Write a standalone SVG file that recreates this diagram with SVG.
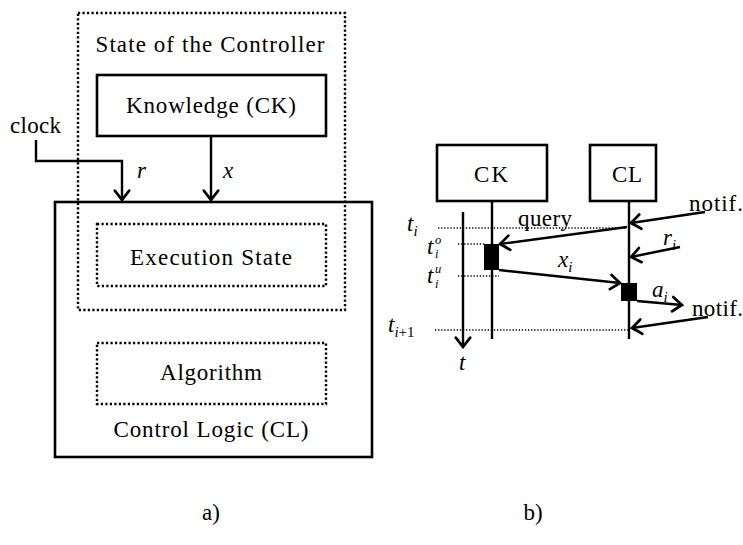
<svg xmlns="http://www.w3.org/2000/svg" width="743" height="545" viewBox="0 0 743 545" font-family="'Liberation Serif', 'Times New Roman', serif">
  <style>
    text { font-family: "Liberation Serif", "Times New Roman", serif; font-size: 23px; fill: #000; }
    .m { font-style: italic; }
    .sub { font-size: 15px; }
    .sm { font-size: 12.5px; font-style: italic; }
    .box { fill: none; stroke: #000; stroke-width: 2.6; }
    .dot { fill: none; stroke: #000; stroke-width: 2.4; stroke-dasharray: 2.2 2.3; }
    .thin { fill: none; stroke: #000; stroke-width: 1.3; stroke-dasharray: 1.3 1.8; }
    .ln { fill: none; stroke: #000; stroke-width: 2.4; }
    .blk { fill: #000; }
  </style>
  <defs>
    <marker id="arr" markerUnits="userSpaceOnUse" markerWidth="20" markerHeight="20" refX="0" refY="0" viewBox="-12 -9 14 18" orient="auto" overflow="visible">
      <path d="M-8.5,-6.5 Q-2.5,-1.8 0,0 Q-2.5,1.8 -8.5,6.5" fill="none" stroke="#000" stroke-width="2.4" stroke-linecap="round"/>
    </marker>
  </defs>

  <!-- a) block structure -->
  <g id="controller-state">
    <rect class="dot" x="78" y="13" width="267" height="297"/>
    <text x="210" y="52" text-anchor="middle" textLength="229">State of the Controller</text>
  </g>
  <g id="knowledge">
    <rect class="box" x="97" y="75" width="229" height="61"/>
    <text x="211" y="113" text-anchor="middle" textLength="170">Knowledge (CK)</text>
  </g>
  <g id="control-logic">
    <rect class="box" x="55" y="202" width="317" height="255"/>
    <text x="211" y="437" text-anchor="middle" textLength="195">Control Logic (CL)</text>
  </g>
  <g id="execution-state">
    <rect class="dot" x="97" y="224" width="229" height="62"/>
    <text x="211" y="265" text-anchor="middle" textLength="162">Execution State</text>
  </g>
  <g id="algorithm">
    <rect class="dot" x="97" y="343" width="229" height="61"/>
    <text x="211" y="380" text-anchor="middle" textLength="102">Algorithm</text>
  </g>
  <g id="clock">
    <text x="10" y="133" textLength="51">clock</text>
  </g>

  <g id="connectors-a">
    <path class="ln" d="M36,140 V161 H122 V200" marker-end="url(#arr)"/>
    <path class="ln" d="M211,136 V200" marker-end="url(#arr)"/>
    <text class="m" x="137" y="178">r</text>
    <text class="m" x="223" y="178">x</text>
  </g>

  <!-- b) sequence -->
  <g id="ck">
    <rect class="box" x="437" y="145" width="110" height="56"/>
    <text x="491" y="182" text-anchor="middle" textLength="34">CK</text>
  </g>
  <g id="cl">
    <rect class="box" x="590" y="145" width="66" height="56"/>
    <text x="627" y="182" text-anchor="middle" textLength="30">CL</text>
  </g>

  <g id="lifelines">
    <path class="ln" d="M492,201 V339"/>
    <path class="ln" d="M629,201 V339"/>
    <path class="ln" d="M463,212 V347" marker-end="url(#arr)"/>
    <rect class="blk" x="484" y="244" width="15" height="26"/>
    <rect class="blk" x="621" y="283" width="16" height="18"/>
  </g>

  <g id="time-marks">
    <path class="thin" d="M438,228 H627"/>
    <path class="thin" d="M458,244 H484"/>
    <path class="thin" d="M458,276 H499"/>
    <path class="thin" d="M435,330 H629"/>
    <text class="m" x="407" y="231">t<tspan class="sub" dy="5">i</tspan></text>
    <text class="m" x="427" y="254">t</text>
    <text class="sm" x="435" y="244">o</text>
    <text class="sm" x="435" y="258">i</text>
    <text class="m" x="427" y="283">t</text>
    <text class="sm" x="435" y="273">u</text>
    <text class="sm" x="435" y="288">i</text>
    <text class="m" x="388" y="332">t<tspan class="sub" dy="5">i</tspan><tspan class="sub" font-style="normal">+1</tspan></text>
    <text class="m" x="459" y="370">t</text>
  </g>

  <g id="connectors-b">
    <path class="ln" d="M705,212 L631,223" marker-end="url(#arr)"/>
    <path class="ln" d="M627,227 L500,244" marker-end="url(#arr)"/>
    <path class="ln" d="M680,247 L631,257" marker-end="url(#arr)"/>
    <path class="ln" d="M499,270 L620,283" marker-end="url(#arr)"/>
    <path class="ln" d="M637,301 L682,305" marker-end="url(#arr)"/>
    <path class="ln" d="M708,317 L632,328" marker-end="url(#arr)"/>
    <text x="545" y="226" text-anchor="middle" textLength="54">query</text>
    <text x="689" y="211" textLength="54">notif.</text>
    <text x="692" y="316" textLength="51">notif.</text>
    <text class="m" x="558" y="267">x<tspan class="sub" dy="5">i</tspan></text>
    <text class="m" x="663" y="245">r<tspan class="sub" dy="5">i</tspan></text>
    <text class="m" x="652" y="297">a<tspan class="sub" dy="5">i</tspan></text>
  </g>

  <g id="captions">
    <text x="211" y="520" text-anchor="middle">a)</text>
    <text x="533" y="520" text-anchor="middle">b)</text>
  </g>
</svg>
